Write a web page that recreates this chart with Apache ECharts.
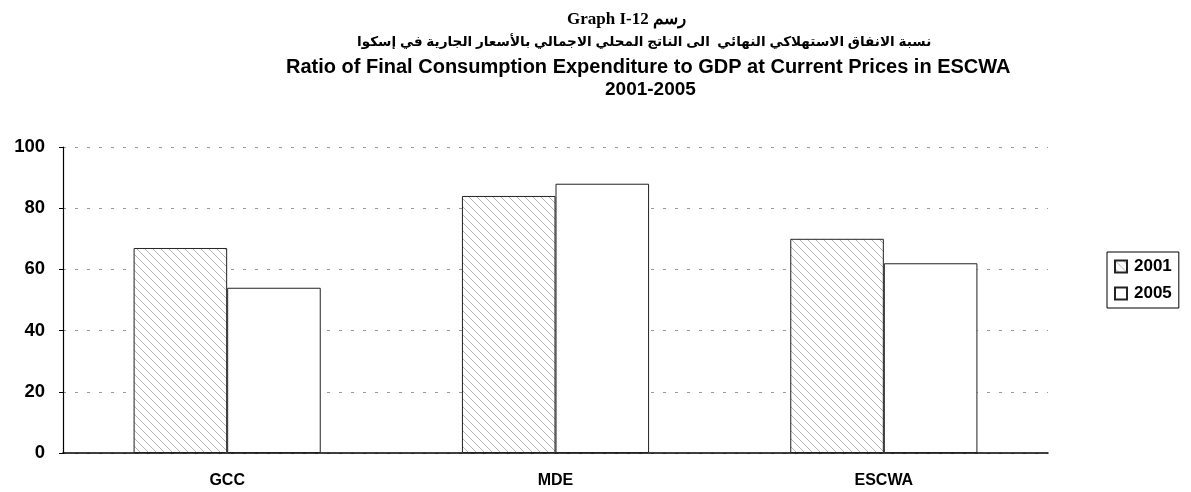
<!DOCTYPE html>
<html><head><meta charset="utf-8">
<script src="https://cdn.jsdelivr.net/npm/echarts@6/dist/echarts.min.js"></script>
<style>html,body{margin:0;padding:0;background:#fff}#c{width:1191px;height:492px}</style>
</head><body><div id="c"></div>
<script>
const categories = ['GCC', 'MDE', 'ESCWA'];
const values2001 = [67, 84, 70];
const values2005 = [54, 88, 62];
const yTicks = [0, 20, 40, 60, 80, 100];

function hatch() {
  const c = document.createElement('canvas');
  c.width = 8; c.height = 8;
  const g = c.getContext('2d');
  g.fillStyle = '#fff'; g.fillRect(0, 0, 8, 8);
  g.strokeStyle = '#b4b4b4'; g.lineWidth = 1;
  g.beginPath();
  g.moveTo(0, 0); g.lineTo(8, 8);
  g.moveTo(-4, 4); g.lineTo(4, 12);
  g.moveTo(4, -4); g.lineTo(12, 4);
  g.stroke();
  return c;
}
const pat = { image: hatch(), repeat: 'repeat' };

const chart = echarts.init(document.getElementById('c'), null, { renderer: 'canvas' });
const F = 'Liberation Sans, DejaVu Sans, Arial, sans-serif';
chart.setOption({
  animation: false,
  backgroundColor: '#fff',
  title: [
    { text: 'Graph I-12 رسم', left: 562, top: 6, textStyle: { fontFamily: 'Liberation Serif, DejaVu Serif, serif', fontWeight: 'bold', fontSize: 17, color: '#000' } },
    { text: 'نسبة الانفاق الاستهلاكي النهائي  الى الناتج المحلي الاجمالي بالأسعار الجارية في إسكوا', left: 352, top: 30, textStyle: { fontFamily: F, fontWeight: 'bold', fontSize: 13.6, color: '#000' } },
    { text: 'Ratio of Final Consumption Expenditure to GDP at Current Prices in ESCWA', left: 281, top: 52, textStyle: { fontFamily: F, fontWeight: 'bold', fontSize: 20, color: '#000' } },
    { text: '2001-2005', left: 600, top: 75, textStyle: { fontFamily: F, fontWeight: 'bold', fontSize: 19, color: '#000' } }
  ],
  legend: {
    orient: 'vertical', left: 1107, top: 252,
    icon: 'rect',
    itemWidth: 12, itemHeight: 12, itemGap: 10,
    padding: [6, 7, 6, 7],
    borderColor: '#000', borderWidth: 1,
    textStyle: { fontFamily: F, fontWeight: 'bold', fontSize: 17, color: '#000', padding: [0, 0, 0, 2] },
    data: ['2001', '2005']
  },
  grid: { left: 63, right: 143, top: 147, bottom: 39, outerBoundsMode: 'none', containLabel: false },
  xAxis: {
    type: 'category', data: categories,
    axisLine: { lineStyle: { color: '#000', width: 1.5 } },
    axisTick: { show: false },
    axisLabel: { fontFamily: F, fontWeight: 'bold', fontSize: 16, color: '#000', margin: 20 }
  },
  yAxis: {
    type: 'value', min: 0, max: 100, interval: 20,
    name: '%', nameLocation: 'middle', nameGap: 44, nameRotate: 90,
    nameTextStyle: { fontFamily: F, fontWeight: 'bold', fontSize: 17, color: '#000' },
    axisLine: { show: true, lineStyle: { color: '#000', width: 1.2 } },
    axisTick: { show: true, length: 4, lineStyle: { color: '#000' } },
    axisLabel: { fontFamily: F, fontWeight: 'bold', fontSize: 18.5, color: '#000', margin: 18,
      formatter: v => yTicks.includes(v) ? String(v) : '' },
    splitLine: { show: true, lineStyle: { color: '#999', type: [3, 9], width: 1 } }
  },
  series: [
    { name: '2001', type: 'bar', data: values2001, barGap: '0%', barCategoryGap: '43%',
      itemStyle: { color: pat, borderColor: '#222', borderWidth: 1 } },
    { name: '2005', type: 'bar', data: values2005,
      itemStyle: { color: '#fff', borderColor: '#222', borderWidth: 1 } }
  ]
});
</script></body></html>
